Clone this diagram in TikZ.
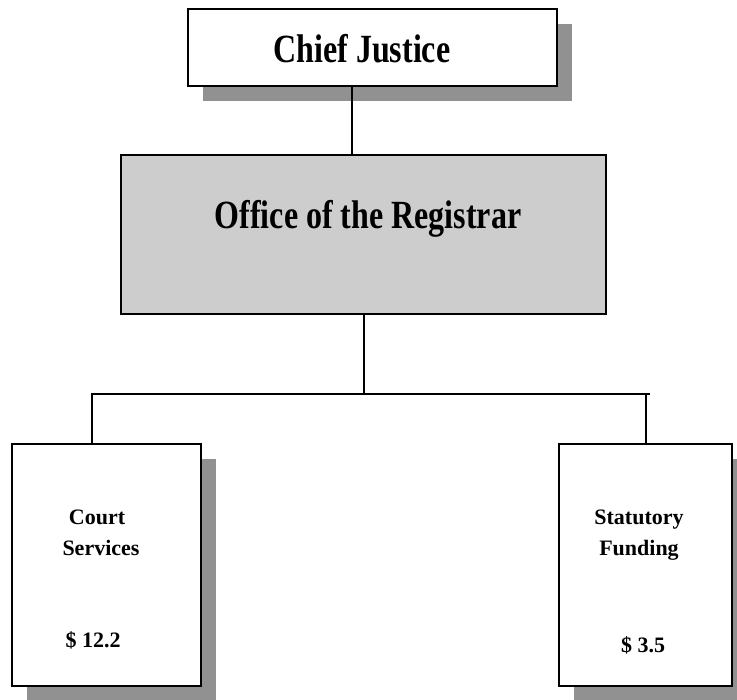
\documentclass[tikz,border=0pt]{standalone}
\usepackage{fontspec}
\setmainfont{Liberation Serif}
\newfontfamily\narrowserif[FakeStretch=0.8]{Liberation Serif}
\usepackage{xcolor}
\usepackage{tikz}
\usetikzlibrary{positioning,shadows}
\definecolor{ink}{RGB}{0,0,0}
\definecolor{shade}{RGB}{145,145,145}
\definecolor{office}{RGB}{205,205,205}
\tikzset{
  wire/.style={line width=2pt,ink},
  unitbox/.style={draw=ink,line width=2.4pt,fill=white,inner sep=0pt,outer sep=0pt},
  shadowed/.style={drop shadow={shadow xshift=15pt,shadow yshift=-15pt,fill=shade,opacity=1}},
  title/.style={font=\narrowserif\bfseries\fontsize{40}{44}\selectfont,text=ink,inner sep=0pt,anchor=base},
  caption/.style={font=\bfseries\fontsize{22}{31}\selectfont,text=ink,inner sep=0pt,anchor=base}
}

\begin{document}
\begin{tikzpicture}[x=1pt,y=-1pt]
  \useasboundingbox (0,0) rectangle (737,700);
  % boxes
  \node[unitbox,shadowed,minimum width=369pt,minimum height=77pt] (chief) at (372.5,47.5) {};
  \node[unitbox,fill=office,minimum width=485pt,minimum height=159pt] (registrar) at (363.5,234.5) {};
  \node[unitbox,shadowed,minimum width=189pt,minimum height=242pt] (court) at (106.5,565) {};
  \node[unitbox,shadowed,minimum width=173pt,minimum height=242pt] (statutory) at (645.5,565) {};
  % texts
  \node[title] (chiefText) at (362,63) {Chief Justice};
  \node[title] (registrarText) at (368,229) {Office of the Registrar};
  \node[caption] (courtTop) at (97,525) {Court};
  \node[caption] (courtMid) at (101,556) {Services};
  \node[caption] (courtSum) at (93,648) {\$ 12.2};
  \node[caption] (statTop) at (639,525) {Statutory};
  \node[caption] (statMid) at (639,556) {Funding};
  \node[caption] (statSum) at (643,652) {\$ 3.5};
  % connectors
  \coordinate (stem) at (352,86);
  \coordinate (busL) at (92,394);
  \coordinate (busR) at (650,394);
  \coordinate (drop) at (646,394);
  \draw[wire] (stem) -- (stem |- registrar.north);
  \draw[wire] (registrar.south) -- (registrar.south |- busL);
  \draw[wire] (busL |- court.north) -- (busL) -- (busR);
  \draw[wire] (drop) -- (drop |- statutory.north);
\end{tikzpicture}
\end{document}
